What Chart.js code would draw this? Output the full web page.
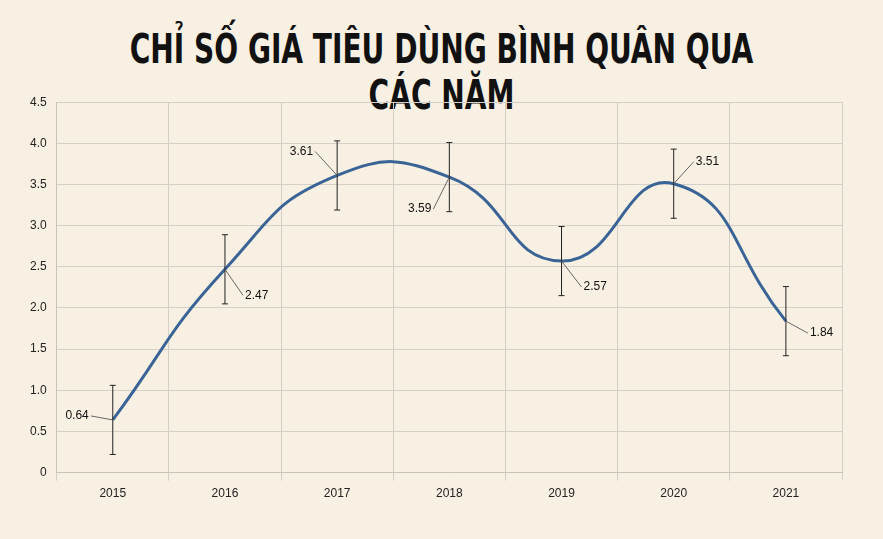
<!DOCTYPE html>
<html><head><meta charset="utf-8">
<script src="https://cdn.jsdelivr.net/npm/chart.js@4/dist/chart.umd.min.js"></script>
<style>
html,body{margin:0;padding:0;background:#f8f0e3;}
#wrap{width:883px;height:539px;position:relative;}
h1{position:absolute;top:26px;left:0;width:883px;margin:0;text-align:center;font-family:"DejaVu Sans Condensed","DejaVu Sans";font-weight:bold;font-size:40px;color:#111;transform:scaleX(0.78);}
#c{position:absolute;left:0;top:85px;}
</style></head>
<body><div id="wrap">
<h1>CHỈ SỐ GIÁ TIÊU DÙNG BÌNH QUÂN QUA CÁC NĂM</h1>
<canvas id="c" width="860" height="430"></canvas>
</div>
<script>
const years = ['2015','2016','2017','2018','2019','2020','2021'];
const cpi = [0.64, 2.47, 3.61, 3.59, 2.57, 3.51, 1.84];
const errPlus = [0.42, 0.42, 0.42, 0.42, 0.42, 0.42, 0.42];
const errMinus = [0.42, 0.42, 0.42, 0.42, 0.42, 0.42, 0.42];
// label offsets (dx, dy) in pixels from the point
const labelOffsets = [[-22,-4],[18,26],[-22,-24],[-16,32],[20,26],[20,-22],[22,12]];

const errorBars = {
  id: 'errorBars',
  afterDatasetsDraw(chart) {
    const ctx = chart.ctx, x = chart.scales.x, y = chart.scales.y;
    ctx.save();
    ctx.strokeStyle = '#222'; ctx.lineWidth = 1;
    cpi.forEach((v, i) => {
      const px = x.getPixelForValue(i);
      const top = y.getPixelForValue(v + errPlus[i]);
      const bot = y.getPixelForValue(v - errMinus[i]);
      ctx.beginPath();
      ctx.moveTo(px, top); ctx.lineTo(px, bot);
      ctx.moveTo(px - 3, top); ctx.lineTo(px + 3, top);
      ctx.moveTo(px - 3, bot); ctx.lineTo(px + 3, bot);
      ctx.stroke();
    });
    ctx.font = '12px "Liberation Sans", Arial';
    ctx.fillStyle = '#111'; ctx.strokeStyle = '#666';
    cpi.forEach((v, i) => {
      const px = x.getPixelForValue(i), py = y.getPixelForValue(v);
      const [dx, dy] = labelOffsets[i];
      const lx = px + dx, ly = py + dy;
      ctx.beginPath(); ctx.moveTo(px, py); ctx.lineTo(lx, ly); ctx.stroke();
      ctx.textBaseline = 'middle';
      ctx.textAlign = dx < 0 ? 'right' : 'left';
      ctx.fillText(v.toFixed(2), lx + (dx < 0 ? -2 : 2), ly);
    });
    ctx.restore();
  }
};

new Chart(document.getElementById('c'), {
  type: 'line',
  data: {
    labels: years,
    datasets: [{
      data: cpi,
      borderColor: '#3a6496',
      borderWidth: 3,
      pointRadius: 0,
      tension: 0.5
    }]
  },
  options: {
    responsive: false,
    animation: false,
    layout: { padding: { left: 20, top: 8, right: 18, bottom: 8 } },
    plugins: { legend: { display: false }, tooltip: { enabled: false } },
    scales: {
      x: {
        offset: true,
        grid: { color: '#d4d0c8', offset: true },
        border: { color: '#c8c4bc' },
        ticks: { color: '#222', font: { size: 12, family: 'Liberation Sans' }, padding: 6 }
      },
      y: {
        min: 0, max: 4.5,
        ticks: { stepSize: 0.5, color: '#222', font: { size: 12, family: 'Liberation Sans' }, padding: 10 },
        grid: { color: '#d4d0c8', drawTicks: false },
        border: { color: '#c8c4bc' }
      }
    }
  },
  plugins: [errorBars]
});
</script>
</body></html>
